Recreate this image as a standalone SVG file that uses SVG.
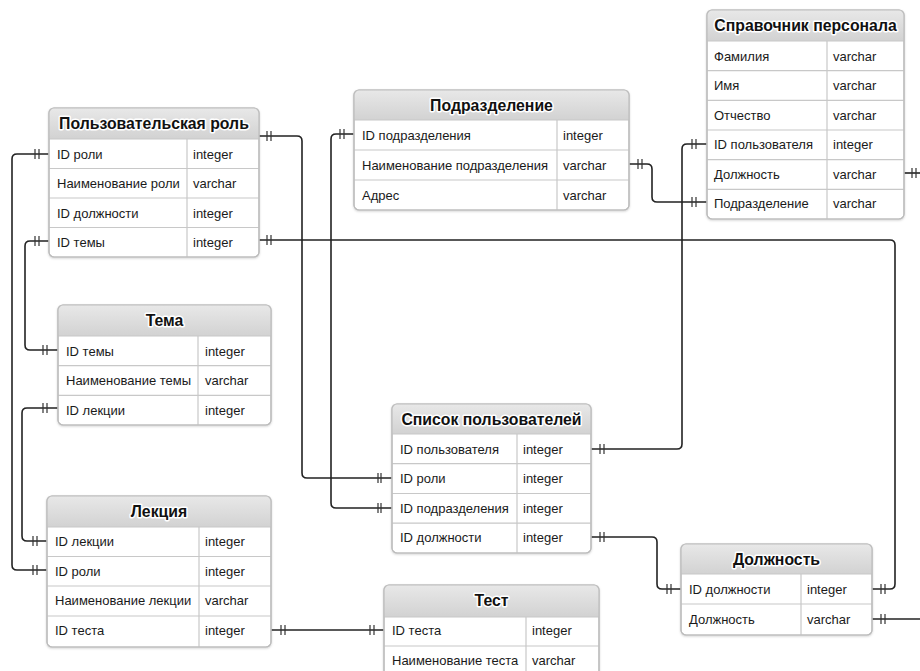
<svg xmlns="http://www.w3.org/2000/svg" width="920" height="671" viewBox="0 0 920 671">
<defs>
<linearGradient id="hg" x1="0" y1="0" x2="0" y2="1">
<stop offset="0" stop-color="#e8e8e8"/>
<stop offset="1" stop-color="#d2d2d2"/>
</linearGradient>
<filter id="sh" x="-5%" y="-5%" width="110%" height="115%">
<feDropShadow dx="0" dy="1" stdDeviation="1" flood-color="#000" flood-opacity="0.18"/>
</filter>
</defs>
<style>
.box{fill:#fff;stroke:#bdbdbd;stroke-width:1.2;filter:url(#sh)}
.hd{fill:url(#hg);stroke:none}
.ln{stroke:#c8c8c8;stroke-width:1.2;fill:none}
.ol{fill:none;stroke:#bdbdbd;stroke-width:1.2}
.t{font-family:"Liberation Sans",Arial,sans-serif;font-size:13px;fill:#1a1a1a}
.h{font-family:"Liberation Sans",Arial,sans-serif;font-size:15.8px;font-weight:bold;fill:#111;text-anchor:middle;paint-order:stroke;stroke:#fff;stroke-width:3px;stroke-linejoin:round}
.c{fill:none;stroke:#222;stroke-width:1.6}
.k{stroke:#333;stroke-width:1.2}
</style>
<rect width="920" height="671" fill="#fff"/>

<g id="connectors">
<path class="c" d="M259,136 H297 Q302,136 302,141 V473 Q302,478 307,478 H392"/>
<path class="k" d="M267,131 V141 M271,131 V141 M378,473 V483 M381,473 V483"/>
<path class="c" d="M49,154 H17 Q12,154 12,159 V565 Q12,570 17,570 H47"/>
<path class="k" d="M35,149 V159 M39,149 V159 M33,565 V575 M37,565 V575"/>
<path class="c" d="M49,241 H30 Q25,241 25,246 V345 Q25,350 30,350 H58"/>
<path class="k" d="M35,236 V246 M39,236 V246 M43,345 V355 M47,345 V355"/>
<path class="c" d="M259,240 H890 Q895,240 895,245 V584 Q895,589 890,589 H872"/>
<path class="k" d="M267,235 V245 M271,235 V245 M881,584 V594 M885,584 V594"/>
<path class="c" d="M58,408 H27 Q22,408 22,413 V536 Q22,541 27,541 H47"/>
<path class="k" d="M43,403 V413 M47,403 V413 M33,536 V546 M37,536 V546"/>
<path class="c" d="M271,630 H384"/>
<path class="k" d="M281,625 V635 M285,625 V635 M370,625 V635 M374,625 V635"/>
<path class="c" d="M354,134 H336 Q331,134 331,139 V503 Q331,508 336,508 H392"/>
<path class="k" d="M340,129 V139 M344,129 V139 M378,503 V513 M381,503 V513"/>
<path class="c" d="M629,164 H647 Q652,164 652,169 V197 Q652,202 657,202 H707"/>
<path class="k" d="M638,159 V169 M642,159 V169 M692,197 V207 M696,197 V207"/>
<path class="c" d="M707,144 H687 Q682,144 682,149 V444 Q682,449 677,449 H591"/>
<path class="k" d="M692,139 V149 M696,139 V149 M600,444 V454 M604,444 V454"/>
<path class="c" d="M591,537 H652 Q657,537 657,542 V584 Q657,589 662,589 H681"/>
<path class="k" d="M600,532 V542 M604,532 V542 M667,584 V594 M671,584 V594"/>
<path class="c" d="M904,173 H920"/>
<path class="k" d="M912,168 V178 M916,168 V178"/>
<path class="c" d="M872,619 H920"/>
<path class="k" d="M881,614 V624 M885,614 V624"/>
</g>

<g id="t-role">
<rect class="box" x="49" y="108" width="210" height="149" rx="5"/>
<path class="hd" d="M49,139 V113 Q49,108 54,108 H254 Q259,108 259,113 V139 Z"/>
<path class="ln" d="M49,139 H259 M49,168.5 H259 M49,198 H259 M49,227.5 H259 M187,139 V257"/>
<rect class="ol" x="49" y="108" width="210" height="149" rx="5"/>
<text class="h" x="154" y="129">Пользовательская роль</text>
<text class="t" x="57" y="158.5">ID роли</text><text class="t" x="193" y="158.5">integer</text>
<text class="t" x="57" y="188">Наименование роли</text><text class="t" x="193" y="188">varchar</text>
<text class="t" x="57" y="217.5">ID должности</text><text class="t" x="193" y="217.5">integer</text>
<text class="t" x="57" y="247">ID темы</text><text class="t" x="193" y="247">integer</text>
</g>

<g id="t-dept">
<rect class="box" x="354" y="90" width="275" height="120" rx="5"/>
<path class="hd" d="M354,120 V95 Q354,90 359,90 H624 Q629,90 629,95 V120 Z"/>
<path class="ln" d="M354,120 H629 M354,150 H629 M354,180 H629 M557,120 V210"/>
<rect class="ol" x="354" y="90" width="275" height="120" rx="5"/>
<text class="h" x="491.5" y="111">Подразделение</text>
<text class="t" x="362" y="139.5">ID подразделения</text><text class="t" x="563" y="139.5">integer</text>
<text class="t" x="362" y="169.5">Наименование подразделения</text><text class="t" x="563" y="169.5">varchar</text>
<text class="t" x="362" y="199.5">Адрес</text><text class="t" x="563" y="199.5">varchar</text>
</g>

<g id="t-staff">
<rect class="box" x="707" y="10" width="197" height="209" rx="5"/>
<path class="hd" d="M707,41 V15 Q707,10 712,10 H899 Q904,10 904,15 V41 Z"/>
<path class="ln" d="M707,41 H904 M707,70.7 H904 M707,100.4 H904 M707,130 H904 M707,159.7 H904 M707,189.4 H904 M827,41 V219"/>
<rect class="ol" x="707" y="10" width="197" height="209" rx="5"/>
<text class="h" x="805.5" y="31">Справочник персонала</text>
<text class="t" x="714" y="60.5">Фамилия</text><text class="t" x="833" y="60.5">varchar</text>
<text class="t" x="714" y="90">Имя</text><text class="t" x="833" y="90">varchar</text>
<text class="t" x="714" y="119.5">Отчество</text><text class="t" x="833" y="119.5">varchar</text>
<text class="t" x="714" y="149">ID пользователя</text><text class="t" x="833" y="149">integer</text>
<text class="t" x="714" y="178.5">Должность</text><text class="t" x="833" y="178.5">varchar</text>
<text class="t" x="714" y="208">Подразделение</text><text class="t" x="833" y="208">varchar</text>
</g>

<g id="t-topic">
<rect class="box" x="58" y="305" width="213" height="120" rx="5"/>
<path class="hd" d="M58,336 V310 Q58,305 63,305 H266 Q271,305 271,310 V336 Z"/>
<path class="ln" d="M58,336 H271 M58,365.7 H271 M58,395.3 H271 M198,336 V425"/>
<rect class="ol" x="58" y="305" width="213" height="120" rx="5"/>
<text class="h" x="164.5" y="326">Тема</text>
<text class="t" x="66" y="355.5">ID темы</text><text class="t" x="205" y="355.5">integer</text>
<text class="t" x="66" y="385">Наименование темы</text><text class="t" x="205" y="385">varchar</text>
<text class="t" x="66" y="414.5">ID лекции</text><text class="t" x="205" y="414.5">integer</text>
</g>

<g id="t-users">
<rect class="box" x="392" y="404" width="199" height="149" rx="5"/>
<path class="hd" d="M392,434 V409 Q392,404 397,404 H586 Q591,404 591,409 V434 Z"/>
<path class="ln" d="M392,434 H591 M392,463.7 H591 M392,493.5 H591 M392,523.2 H591 M517,434 V553"/>
<rect class="ol" x="392" y="404" width="199" height="149" rx="5"/>
<text class="h" x="491.5" y="425">Список пользователей</text>
<text class="t" x="400" y="453.5">ID пользователя</text><text class="t" x="523" y="453.5">integer</text>
<text class="t" x="400" y="483">ID роли</text><text class="t" x="523" y="483">integer</text>
<text class="t" x="400" y="512.5">ID подразделения</text><text class="t" x="523" y="512.5">integer</text>
<text class="t" x="400" y="542">ID должности</text><text class="t" x="523" y="542">integer</text>
</g>

<g id="t-lecture">
<rect class="box" x="47" y="496" width="224" height="151" rx="5"/>
<path class="hd" d="M47,527 V501 Q47,496 52,496 H266 Q271,496 271,501 V527 Z"/>
<path class="ln" d="M47,527 H271 M47,556.5 H271 M47,586 H271 M47,616 H271 M199,527 V647"/>
<rect class="ol" x="47" y="496" width="224" height="151" rx="5"/>
<text class="h" x="159" y="517">Лекция</text>
<text class="t" x="55" y="546">ID лекции</text><text class="t" x="205" y="546">integer</text>
<text class="t" x="55" y="575.5">ID роли</text><text class="t" x="205" y="575.5">integer</text>
<text class="t" x="55" y="605">Наименование лекции</text><text class="t" x="205" y="605">varchar</text>
<text class="t" x="55" y="635">ID теста</text><text class="t" x="205" y="635">integer</text>
</g>

<g id="t-test">
<rect class="box" x="384" y="585" width="215" height="92" rx="5"/>
<path class="hd" d="M384,617 V590 Q384,585 389,585 H594 Q599,585 599,590 V617 Z"/>
<path class="ln" d="M384,617 H599 M384,646 H599 M526,617 V677"/>
<rect class="ol" x="384" y="585" width="215" height="92" rx="5"/>
<text class="h" x="491.5" y="606">Тест</text>
<text class="t" x="392" y="635">ID теста</text><text class="t" x="532" y="635">integer</text>
<text class="t" x="392" y="664.5">Наименование теста</text><text class="t" x="532" y="664.5">varchar</text>
</g>

<g id="t-position">
<rect class="box" x="681" y="544" width="191" height="91" rx="5"/>
<path class="hd" d="M681,574 V549 Q681,544 686,544 H867 Q872,544 872,549 V574 Z"/>
<path class="ln" d="M681,574 H872 M681,604 H872 M801,574 V635"/>
<rect class="ol" x="681" y="544" width="191" height="91" rx="5"/>
<text class="h" x="776.5" y="565">Должность</text>
<text class="t" x="689" y="593.5">ID должности</text><text class="t" x="807" y="593.5">integer</text>
<text class="t" x="689" y="623.5">Должность</text><text class="t" x="807" y="623.5">varchar</text>
</g>
</svg>
